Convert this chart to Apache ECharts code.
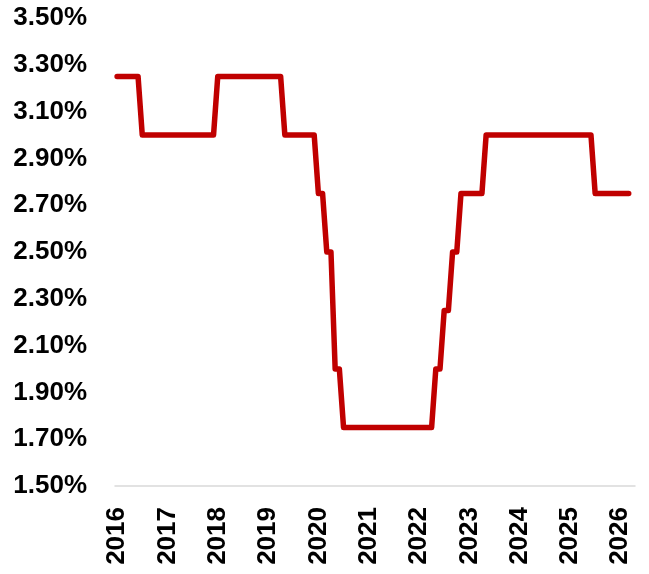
<!DOCTYPE html>
<html>
<head>
<meta charset="utf-8">
<script src="https://cdn.jsdelivr.net/npm/echarts@6/dist/echarts.min.js"></script>
<style>
  html, body { margin: 0; padding: 0; background: #fff; }
  #chart { width: 649px; height: 574px; }
</style>
</head>
<body>
<div id="chart"></div>
<script>
// years shown on the x axis
var years = ['2016', '2017', '2018', '2019', '2020', '2021', '2022', '2023', '2024', '2025', '2026'];
var monthsPerYear = 12;
var lastYearMonths = 4; // axis runs to Apr 2026

// monthly rate (%), Jan 2016 .. Mar 2026
var rate = [
  3.25, 3.25, 3.25, 3.25, 3.25, 3.25, 3.00, 3.00, 3.00, 3.00, 3.00, 3.00, // 2016
  3.00, 3.00, 3.00, 3.00, 3.00, 3.00, 3.00, 3.00, 3.00, 3.00, 3.00, 3.00, // 2017
  3.25, 3.25, 3.25, 3.25, 3.25, 3.25, 3.25, 3.25, 3.25, 3.25, 3.25, 3.25, // 2018
  3.25, 3.25, 3.25, 3.25, 3.00, 3.00, 3.00, 3.00, 3.00, 3.00, 3.00, 3.00, // 2019
  2.75, 2.75, 2.50, 2.50, 2.00, 2.00, 1.75, 1.75, 1.75, 1.75, 1.75, 1.75, // 2020
  1.75, 1.75, 1.75, 1.75, 1.75, 1.75, 1.75, 1.75, 1.75, 1.75, 1.75, 1.75, // 2021
  1.75, 1.75, 1.75, 1.75, 2.00, 2.00, 2.25, 2.25, 2.50, 2.50, 2.75, 2.75, // 2022
  2.75, 2.75, 2.75, 2.75, 3.00, 3.00, 3.00, 3.00, 3.00, 3.00, 3.00, 3.00, // 2023
  3.00, 3.00, 3.00, 3.00, 3.00, 3.00, 3.00, 3.00, 3.00, 3.00, 3.00, 3.00, // 2024
  3.00, 3.00, 3.00, 3.00, 3.00, 3.00, 2.75, 2.75, 2.75, 2.75, 2.75, 2.75, // 2025
  2.75, 2.75, 2.75                                                        // 2026
];

// month categories, label only at each January
var months = [];
years.forEach(function (y, i) {
  var n = i === years.length - 1 ? lastYearMonths : monthsPerYear;
  for (var m = 1; m <= n; m++) {
    months.push(y + '-' + (m < 10 ? '0' + m : m));
  }
});

var font = '"Liberation Sans", Arial, sans-serif';

var myChart = echarts.init(document.getElementById('chart'));
var option = {
  animation: false,
  grid: { left: 115, right: 14, top: 18, bottom: 88 },
  xAxis: {
    type: 'category',
    data: months,
    boundaryGap: true,
    axisLine: { lineStyle: { color: '#d9d9d9', width: 1.5 } },
    axisTick: { show: false },
    axisLabel: {
      interval: 11,
      rotate: 90,
      margin: 21,
      color: '#000',
      fontFamily: font,
      fontWeight: 'bold',
      fontSize: 26,
      formatter: function (v) { return v.slice(0, 4); }
    },
    splitLine: { show: false }
  },
  yAxis: {
    type: 'value',
    min: 1.5,
    max: 3.5,
    interval: 0.2,
    axisLine: { show: false },
    axisTick: { show: false },
    splitLine: { show: false },
    axisLabel: {
      margin: 28,
      padding: [4, 0, 0, 0],
      color: '#000',
      fontFamily: font,
      fontWeight: 'bold',
      fontSize: 26,
      formatter: function (v) { return v.toFixed(2) + '%'; }
    }
  },
  series: [{
    type: 'line',
    data: rate,
    symbol: 'none',
    smooth: false,
    lineStyle: { color: '#c00000', width: 5.5, cap: 'round', join: 'round' }
  }]
};
myChart.setOption(option);
</script>
</body>
</html>
